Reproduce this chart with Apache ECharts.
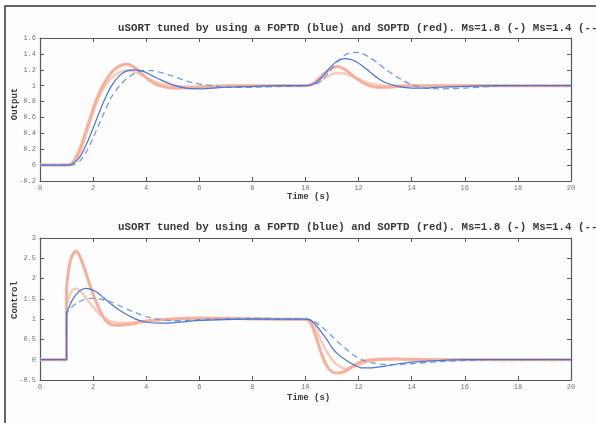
<!DOCTYPE html>
<html>
<head>
<meta charset="utf-8">
<script src="https://cdn.jsdelivr.net/npm/echarts@6/dist/echarts.min.js"></script>
<style>
  html, body { margin: 0; padding: 0; background: #fdfdfd; }
  #chart { width: 596px; height: 423px; }
</style>
</head>
<body>
<div id="chart"></div>
<script>
// titles / labels
const TITLE = 'uSORT tuned by using a FOPTD (blue) and SOPTD (red). Ms=1.8 (-) Ms=1.4 (--)'
const X_NAME = 'Time (s)'

// top plot: output
const tOut = [0, 1, 1.2, 1.5, 1.8, 2.1, 2.4, 2.7, 3.0, 3.3, 3.6, 3.9, 4.2, 4.5, 5, 5.5, 6, 6.5, 7, 8, 9,
  10, 10.3, 10.6, 10.9, 11.2, 11.5, 11.8, 12.1, 12.4, 12.7, 13, 13.5, 14, 14.5, 15, 16, 17, 18, 20]
const outBlueSolid = [0, 0, 0.01, 0.1, 0.3, 0.55, 0.8, 1.0, 1.13, 1.19, 1.2, 1.18, 1.13, 1.08, 1.01, 0.97, 0.96, 0.97, 0.98, 0.99, 1.0,
  1.0, 1.02, 1.1, 1.22, 1.31, 1.34, 1.32, 1.26, 1.18, 1.1, 1.04, 0.99, 0.97, 0.97, 0.98, 0.99, 1.0, 1.0, 1.0]
const outBlueDash = [0, 0, 0, 0.05, 0.2, 0.42, 0.65, 0.86, 1.0, 1.1, 1.16, 1.19, 1.19, 1.17, 1.12, 1.06, 1.02, 1.0, 0.98, 0.98, 0.99,
  1.0, 1.01, 1.06, 1.18, 1.3, 1.39, 1.42, 1.41, 1.36, 1.29, 1.21, 1.1, 1.01, 0.97, 0.96, 0.97, 0.99, 1.0, 1.0]
const outRedSolid = [0, 0, 0.02, 0.2, 0.5, 0.8, 1.02, 1.17, 1.25, 1.27, 1.22, 1.13, 1.05, 1.0, 0.97, 0.97, 0.98, 0.99, 1.0, 1.0, 1.0,
  1.0, 1.03, 1.12, 1.2, 1.24, 1.2, 1.12, 1.05, 1.0, 0.98, 0.98, 0.99, 1.0, 1.0, 1.0, 1.0, 1.0, 1.0, 1.0]
const outRedDash = [0, 0, 0.01, 0.15, 0.45, 0.75, 0.97, 1.1, 1.17, 1.19, 1.17, 1.12, 1.07, 1.03, 1.0, 0.99, 0.99, 1.0, 1.0, 1.0, 1.0,
  1.0, 1.02, 1.07, 1.13, 1.16, 1.15, 1.11, 1.07, 1.03, 1.01, 1.0, 1.0, 1.0, 1.0, 1.0, 1.0, 1.0, 1.0, 1.0]

// bottom plot: control
const tCtl = [0, 1, 1, 1.1, 1.2, 1.35, 1.5, 1.7, 1.9, 2.1, 2.3, 2.5, 2.7, 3.0, 3.3, 3.6, 4.0, 4.5, 5, 5.5, 6, 7, 8, 9,
  10, 10.2, 10.4, 10.6, 10.8, 11.0, 11.2, 11.5, 11.8, 12.1, 12.5, 13, 13.5, 14, 15, 16, 17, 18, 20]
const ctlBlueSolid = [0, 0, 1.15, 1.3, 1.45, 1.6, 1.7, 1.76, 1.74, 1.68, 1.58, 1.47, 1.36, 1.22, 1.1, 1.0, 0.93, 0.9, 0.91, 0.94, 0.97, 0.99, 1.0, 1.0,
  1.0, 0.97, 0.85, 0.68, 0.5, 0.3, 0.15, 0.0, -0.12, -0.2, -0.2, -0.16, -0.1, -0.06, -0.02, 0, 0, 0, 0]
const ctlBlueDash = [0, 0, 1.12, 1.22, 1.3, 1.38, 1.44, 1.49, 1.51, 1.51, 1.49, 1.46, 1.42, 1.33, 1.24, 1.16, 1.06, 0.99, 0.96, 0.97, 0.99, 1.01, 1.02, 1.01,
  1.0, 0.98, 0.92, 0.82, 0.7, 0.58, 0.45, 0.28, 0.12, 0.0, -0.08, -0.12, -0.12, -0.1, -0.05, -0.02, 0, 0, 0]
const ctlRedSolid = [0, 0, 1.72, 2.3, 2.55, 2.68, 2.55, 2.2, 1.8, 1.45, 1.15, 0.95, 0.86, 0.85, 0.87, 0.9, 0.95, 0.98, 1.0, 1.02, 1.03, 1.02, 1.01, 1.0,
  1.0, 0.9, 0.55, 0.15, -0.15, -0.3, -0.33, -0.28, -0.15, -0.05, 0.0, 0.02, 0.02, 0.01, 0, 0, 0, 0, 0]
const ctlRedDash = [0, 0, 1.3, 1.55, 1.7, 1.75, 1.7, 1.55, 1.38, 1.22, 1.1, 1.0, 0.94, 0.91, 0.91, 0.93, 0.96, 0.99, 1.01, 1.02, 1.02, 1.01, 1.0, 1.0,
  1.0, 0.96, 0.75, 0.45, 0.2, 0.0, -0.13, -0.22, -0.18, -0.1, -0.03, 0.01, 0.02, 0.01, 0, 0, 0, 0, 0]

const MONO = '"Liberation Mono", "DejaVu Sans Mono", monospace'
const AXIS_COLOR = '#505866'
const LABEL_COLOR = '#6b7686'
const RED = '#f6b09a'
const RED_LIGHT = '#f9cbbb'
const BLUE = '#4676d2'
const BLUE_DASH = '#729ce2'

function pairs(t, v) {
  return t.map((x, i) => [x, v[i]])
}

// x axes (bottom with labels + top mirror) for a grid
function xAxes(gridIndex) {
  const base = {
    gridIndex,
    type: 'value',
    min: 0,
    max: 20,
    interval: 2,
    splitLine: { show: false },
    axisLine: { show: true, onZero: false, lineStyle: { color: AXIS_COLOR, width: 1.2 } },
    axisTick: { show: true, inside: true, length: 4, lineStyle: { color: AXIS_COLOR } }
  }
  return [
    Object.assign({}, base, {
      position: 'bottom',
      axisLabel: { show: true, fontSize: 7, color: LABEL_COLOR, fontFamily: MONO, margin: 4 }
    }),
    Object.assign({}, base, { position: 'top', axisLabel: { show: false } })
  ]
}

function yAxes(gridIndex, min, max, interval) {
  const base = {
    gridIndex,
    type: 'value',
    min,
    max,
    interval,
    splitLine: { show: false },
    axisLine: { show: true, onZero: false, lineStyle: { color: AXIS_COLOR, width: 1.2 } },
    axisTick: { show: true, inside: true, length: 4, lineStyle: { color: AXIS_COLOR } }
  }
  return [
    Object.assign({}, base, {
      position: 'left',
      axisLabel: { show: true, fontSize: 7, color: LABEL_COLOR, fontFamily: MONO, margin: 4 }
    }),
    Object.assign({}, base, { position: 'right', axisLabel: { show: false } })
  ]
}

function line(name, xi, yi, data, color, width, dashed) {
  return {
    name,
    type: 'line',
    xAxisIndex: xi,
    yAxisIndex: yi,
    data,
    smooth: 0.25,
    symbol: 'none',
    lineStyle: { color, width, type: dashed ? [6, 4] : 'solid' },
    z: 2
  }
}

const chart = echarts.init(document.getElementById('chart'))
chart.setOption({
  backgroundColor: '#fdfdfd',
  animation: false,
  grid: [
    { left: 40, top: 38, width: 531, height: 143 },
    { left: 40, top: 238, width: 531, height: 142 }
  ],
  xAxis: [...xAxes(0), ...xAxes(1)],
  yAxis: [...yAxes(0, -0.2, 1.6, 0.2), ...yAxes(1, -0.5, 3, 0.5)],
  series: [
    // output
    line('SOPTD Ms=1.4', 0, 0, pairs(tOut, outRedDash), RED_LIGHT, 2.5, false),
    line('SOPTD Ms=1.8', 0, 0, pairs(tOut, outRedSolid), RED, 3, false),
    line('FOPTD Ms=1.4', 0, 0, pairs(tOut, outBlueDash), BLUE_DASH, 1.3, true),
    line('FOPTD Ms=1.8', 0, 0, pairs(tOut, outBlueSolid), BLUE, 1.2, false),
    // control
    line('SOPTD Ms=1.4', 2, 2, pairs(tCtl, ctlRedDash), RED_LIGHT, 2.5, false),
    line('SOPTD Ms=1.8', 2, 2, pairs(tCtl, ctlRedSolid), RED, 3, false),
    line('FOPTD Ms=1.4', 2, 2, pairs(tCtl, ctlBlueDash), BLUE_DASH, 1.3, true),
    line('FOPTD Ms=1.8', 2, 2, pairs(tCtl, ctlBlueSolid), BLUE, 1.2, false)
  ],
  graphic: [
    // outer frame (right/bottom edges fall outside the picture)
    { type: 'rect', shape: { x: 5, y: 6, width: 700, height: 500 }, style: { fill: 'none', stroke: '#333', lineWidth: 1.5 }, silent: true },
    { type: 'text', left: 118, top: 23, style: { text: TITLE, font: 'bold 10.8px ' + MONO, fill: '#3a3a3a' } },
    { type: 'text', left: 118, top: 222, style: { text: TITLE, font: 'bold 10.8px ' + MONO, fill: '#3a3a3a' } },
    { type: 'text', left: 287, top: 192, style: { text: X_NAME, font: 'bold 9px ' + MONO, fill: '#3a3a3a' } },
    { type: 'text', left: 287, top: 393, style: { text: X_NAME, font: 'bold 9px ' + MONO, fill: '#3a3a3a' } },
    { type: 'text', x: 15, y: 104, rotation: Math.PI / 2, style: { text: 'Output', font: 'bold 9px ' + MONO, fill: '#3a3a3a', align: 'center', verticalAlign: 'middle' } },
    { type: 'text', x: 15, y: 300, rotation: Math.PI / 2, style: { text: 'Control', font: 'bold 9px ' + MONO, fill: '#3a3a3a', align: 'center', verticalAlign: 'middle' } }
  ]
})
</script>
</body>
</html>
